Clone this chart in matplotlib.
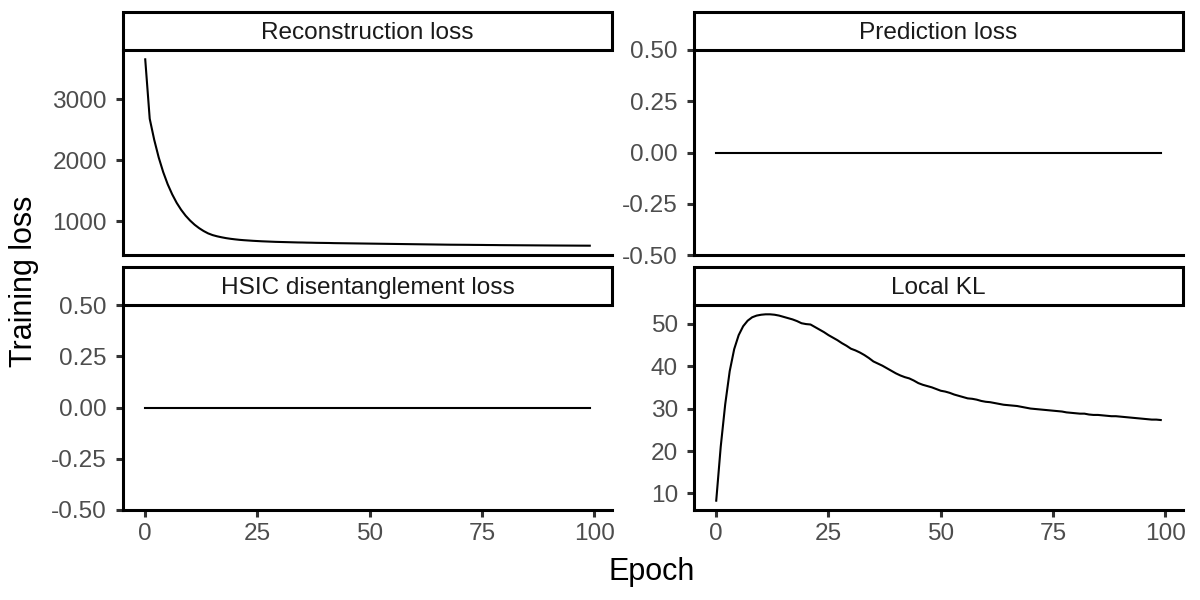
import matplotlib
matplotlib.use("Agg")
import matplotlib.pyplot as plt
from matplotlib.patches import Rectangle
from matplotlib.ticker import FuncFormatter

plt.rcParams['font.family'] = ['Liberation Sans', 'DejaVu Sans']

epochs = list(range(100))

recon = [3656, 2680, 2335, 2045, 1805, 1605, 1440, 1300, 1185, 1088,
         1008, 940, 884, 837, 798, 770, 750, 734, 720, 709,
         700, 692, 686, 681, 676, 672, 668, 665, 662, 659,
         657, 655, 653, 651, 649, 648, 646, 645, 643, 642,
         641, 640, 638, 637, 636, 635, 634, 633, 632, 631,
         630, 629, 628, 627, 626, 625, 624, 623, 622, 621,
         620, 619, 618, 617, 616, 615, 614, 613, 612, 611.5,
         611, 610.5, 610, 609, 608.5, 608, 607, 606.5, 606, 605,
         604.5, 604, 603.5, 603, 602.5, 602, 601.5, 601, 600.5, 600,
         599.5, 599, 598.6, 598.2, 597.8, 597.4, 597, 596.6, 596.3, 596]

pred = [0.0] * 100
hsic = [0.0] * 100

local_kl = [8.3, 21.0, 31.0, 38.8, 44.0, 47.3, 49.4, 50.7, 51.5, 51.9,
            52.1, 52.2, 52.2, 52.1, 51.9, 51.6, 51.3, 51.0, 50.6, 50.1,
            49.9, 49.8, 49.2, 48.6, 48.0, 47.3, 46.7, 46.1, 45.4, 44.8,
            44.1, 43.7, 43.2, 42.6, 41.9, 41.1, 40.6, 40.1, 39.5, 38.9,
            38.3, 37.8, 37.4, 37.1, 36.6, 36.0, 35.6, 35.3, 35.0, 34.6,
            34.2, 34.0, 33.7, 33.3, 33.0, 32.7, 32.4, 32.3, 32.1, 31.8,
            31.6, 31.5, 31.3, 31.1, 30.9, 30.8, 30.7, 30.6, 30.4, 30.2,
            30.0, 29.9, 29.8, 29.7, 29.6, 29.5, 29.4, 29.3, 29.1, 29.0,
            28.9, 28.8, 28.8, 28.6, 28.5, 28.5, 28.4, 28.3, 28.2, 28.2,
            28.1, 28.0, 27.9, 27.8, 27.7, 27.6, 27.5, 27.4, 27.4, 27.3]

titles = ["Reconstruction loss", "Prediction loss",
          "HSIC disentanglement loss", "Local KL"]
series = [recon, pred, hsic, local_kl]

x_ticks = [0, 25, 50, 75, 100]
y_ticks = [[1000, 2000, 3000],
           [-0.5, -0.25, 0.0, 0.25, 0.5],
           [-0.5, -0.25, 0.0, 0.25, 0.5],
           [10, 20, 30, 40, 50]]

W, H = 1200, 600
fig = plt.figure(figsize=(6, 3), dpi=200)

cols = [(123, 612), (694, 1183)]
rows = [(12, 50, 255), (267, 305, 510)]

def fr(x0, x1, y0, y1):
    return [x0 / W, 1 - y1 / H, (x1 - x0) / W, (y1 - y0) / H]

lw_axis = 1.1
for i, (title, ys) in enumerate(zip(titles, series)):
    r, c = divmod(i, 2)
    x0, x1 = cols[c]
    st, pt, pb = rows[r]
    ax = fig.add_axes(fr(x0, x1, pt, pb))
    ax.plot(epochs, ys, color='black', lw=0.75)
    xmin, xmax = min(epochs), max(epochs)
    xr = xmax - xmin
    ax.set_xlim(xmin - 0.05 * xr, xmax + 0.05 * xr)
    lo, hi = min(ys), max(ys)
    if hi - lo == 0:
        ax.set_ylim(lo - 0.5, hi + 0.5)
    else:
        d = 0.05 * (hi - lo)
        ax.set_ylim(lo - d, hi + d)
    ax.set_yticks(y_ticks[i])
    if i in (1, 2):
        ax.yaxis.set_major_formatter(FuncFormatter(lambda v, p: f"{v:.2f}".replace("\u2212", "-")))
    else:
        ax.yaxis.set_major_formatter(FuncFormatter(lambda v, p: f"{v:g}"))
    ax.set_xticks(x_ticks)
    for s in ['top', 'right']:
        ax.spines[s].set_visible(False)
    for s in ['left', 'bottom']:
        ax.spines[s].set_linewidth(lw_axis)
        ax.spines[s].set_color('black')
    ax.tick_params(axis='both', length=2.6, width=lw_axis, color='#333333',
                   labelsize=8.8, labelcolor='#4D4D4D', pad=2.2)
    ax.tick_params(axis='y', pad=3.2)
    if r == 0:
        ax.tick_params(axis='x', length=0, labelbottom=False)
    # strip
    sax = fig.add_axes(fr(x0, x1, st, pt))
    sax.set_xlim(0, 1)
    sax.set_ylim(0, 1)
    sax.axis('off')
    sax.add_patch(Rectangle((0, 0), 1, 1, transform=sax.transAxes,
                            facecolor='white', edgecolor='black', lw=1.1,
                            clip_on=False))
    sax.text(0.5, 0.44, title, ha='center', va='center', fontsize=8.8,
             color='#1A1A1A')

fig.text(652 / W, 1 - 572 / H, "Epoch", ha='center', va='center', fontsize=11)
fig.text(24 / W, 1 - 281 / H, "Training loss", ha='center', va='center',
         fontsize=11, rotation=90)

fig.savefig("out.png", dpi=200)
